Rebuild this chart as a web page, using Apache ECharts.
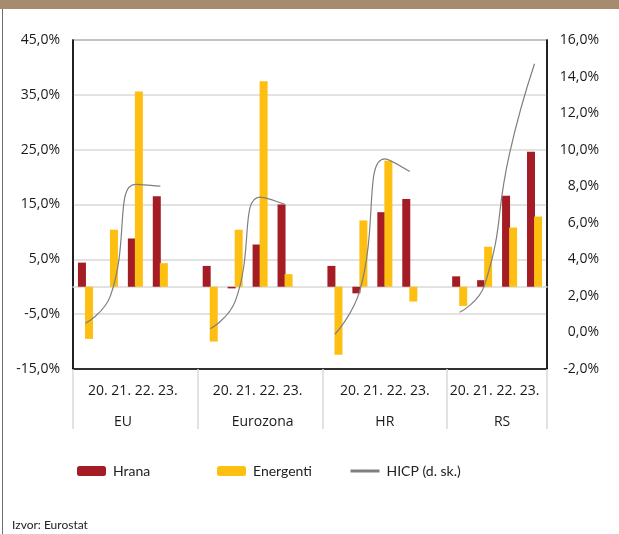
<!DOCTYPE html>
<html>
<head>
  <meta charset="utf-8">
  <script src="https://cdn.jsdelivr.net/npm/echarts@6/dist/echarts.min.js"></script>
  <style>
    html, body { margin: 0; padding: 0; background: #fff; }
    #chart { width: 619px; height: 534px; }
  </style>
</head>
<body>
  <div id="chart"></div>
  <script>
    // podaci (očitano s grafikona)
    const groupNames = ['EU', 'Eurozona', 'HR', 'RS'];
    const years = ['20.', '21.', '22.', '23.'];
    const yearLabel = '20. 21. 22. 23.';
    const hrana = [
      [4.4, 0.0, 8.8, 16.5],
      [3.8, -0.3, 7.7, 15.0],
      [3.8, -1.2, 13.6, 16.0],
      [1.9, 1.2, 16.6, 24.6]
    ];
    const energenti = [
      [-9.5, 10.4, 35.6, 4.3],
      [-10.0, 10.4, 37.5, 2.3],
      [-12.4, 12.1, 23.0, -2.7],
      [-3.5, 7.3, 10.8, 12.8]
    ];
    const hicp = [
      [0.5, 2.0, 8.1, 8.0],
      [0.2, 1.7, 7.4, 7.0],
      [-0.1, 2.3, 9.5, 8.8],
      [1.1, 2.6, 9.8, 14.7]
    ];

    // položaji natpisa na donjoj osi (u jedinicama kategorija)
    const separatorPos = [0, 5, 10, 15, 19];
    const yearPos = [2.4, 7.4, 12.5, 16.9];
    const groupPos = [2.0, 7.6, 12.5, 17.2];

    // 4 grupe po 4 godine, s praznim mjestom između grupa
    function spread(groups) {
      const out = [];
      groups.forEach((g, i) => {
        out.push(...g);
        if (i < groups.length - 1) out.push(null);
      });
      return out;
    }
    const categories = [];
    groupNames.forEach((g, i) => {
      years.forEach(y => categories.push(g + ' ' + y));
      if (i < groupNames.length - 1) categories.push('gap' + i);
    });

    const pct = v => v.toFixed(1).replace('.', ',') + '%';
    const lookup = (list, v) => list.findIndex(p => Math.abs(p - v) < 1e-6);
    const FONT = 'Open Sans';
    const legendText = { fontFamily: 'Lato', fontSize: 14, color: '#222', padding: [0, 0, 0, 2] };

    const chart = echarts.init(document.getElementById('chart'));
    chart.setOption({
      animation: false,
      backgroundColor: '#fff',
      title: {
        text: 'Izvor: Eurostat',
        left: 12, top: 519, padding: 0,
        textStyle: { fontFamily: 'Lato', fontSize: 12, fontWeight: 'normal', color: '#222' }
      },
      graphic: [
        { type: 'rect', shape: { x: 0, y: 0, width: 619, height: 9 }, style: { fill: '#a68b6f' } },
        { type: 'rect', shape: { x: 2, y: 9, width: 1, height: 525 }, style: { fill: '#6e6e6e' } }
      ],
      grid: {
        left: 73, right: 72, top: 40, bottom: 165,
        show: true, borderColor: '#5a5a5a', borderWidth: 1.5,
        outerBoundsMode: 'none'
      },
      legend: [
        {
          data: ['Hrana'], left: 77, top: 464, padding: 0,
          itemWidth: 29, itemHeight: 10, textStyle: legendText
        },
        {
          data: ['Energenti'], left: 217, top: 464, padding: 0,
          itemWidth: 29, itemHeight: 10, textStyle: legendText
        },
        {
          data: ['HICP (d. sk.)'], left: 349, top: 464, padding: 0,
          itemWidth: 29, itemHeight: 3, lineStyle: { width: 3 }, textStyle: legendText
        }
      ],
      xAxis: [
        {
          // kategorije za stupce i liniju; linija osi na nuli
          type: 'category',
          data: categories,
          position: 'bottom',
          axisLine: { onZero: true, onZeroAxisIndex: 0, lineStyle: { color: '#d9d9d9', width: 1.5 } },
          axisTick: { show: false },
          axisLabel: { show: false },
          splitLine: { show: false }
        },
        {
          // godine + razdjelnici grupa
          type: 'value',
          min: 0, max: 19,
          position: 'bottom',
          axisLine: { onZero: false, lineStyle: { color: '#000', width: 1.5 } },
          axisTick: {
            show: true, customValues: separatorPos, length: 60,
            lineStyle: { color: '#d9d9d9', width: 1.5 }
          },
          axisLabel: {
            customValues: yearPos, margin: 15,
            fontFamily: FONT, fontSize: 14, color: '#1a1a1a',
            formatter: v => (lookup(yearPos, v) >= 0 ? yearLabel : '')
          },
          splitLine: { show: false }
        },
        {
          // nazivi grupa
          type: 'value',
          min: 0, max: 19,
          position: 'bottom',
          axisLine: { show: false, onZero: false },
          axisTick: { show: false },
          axisLabel: {
            customValues: groupPos, margin: 46,
            fontFamily: FONT, fontSize: 14, color: '#1a1a1a',
            formatter: v => {
              const i = lookup(groupPos, v);
              return i >= 0 ? groupNames[i] : '';
            }
          },
          splitLine: { show: false }
        }
      ],
      yAxis: [
        {
          type: 'value',
          min: -15, max: 45, interval: 10,
          axisLine: { show: true, onZero: false, lineStyle: { color: '#000', width: 1.5 } },
          axisTick: { show: false },
          axisLabel: { margin: 13, fontFamily: FONT, fontSize: 14, color: '#1a1a1a', formatter: pct },
          splitLine: { show: true, lineStyle: { color: '#d9d9d9', width: 1.5 } }
        },
        {
          type: 'value',
          min: -2, max: 16, interval: 2,
          position: 'right',
          axisLine: { show: true, onZero: false, lineStyle: { color: '#000', width: 1.5 } },
          axisTick: { show: false },
          axisLabel: {
            margin: 52, align: 'right',
            fontFamily: FONT, fontSize: 14, color: '#1a1a1a', formatter: pct
          },
          splitLine: { show: false }
        }
      ],
      series: [
        {
          name: 'Hrana',
          type: 'bar',
          data: spread(hrana),
          barWidth: 8,
          barGap: '-12%',
          itemStyle: { color: '#a51d24' }
        },
        {
          name: 'Energenti',
          type: 'bar',
          data: spread(energenti),
          barWidth: 8,
          barGap: '-12%',
          itemStyle: { color: '#fdbf12' }
        },
        {
          name: 'HICP (d. sk.)',
          type: 'line',
          yAxisIndex: 1,
          data: spread(hicp),
          smooth: 0.5,
          showSymbol: false,
          symbol: 'none',
          connectNulls: false,
          color: '#7f7f7f',
          lineStyle: { color: '#7f7f7f', width: 1.2 }
        }
      ]
    });
  </script>
</body>
</html>
